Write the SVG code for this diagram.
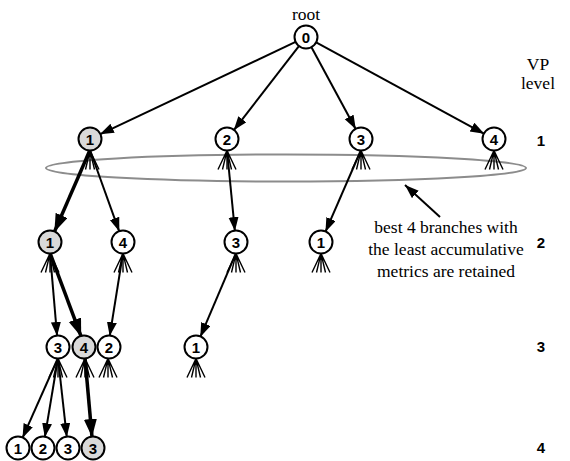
<svg xmlns="http://www.w3.org/2000/svg" width="570" height="461" viewBox="0 0 570 461">
<defs>
<marker id="ah" markerUnits="userSpaceOnUse" markerWidth="15" markerHeight="11" refX="14" refY="5" orient="auto"><path d="M0,0 L14,5 L0,10 z" fill="#000"/></marker>
<marker id="ahb" markerUnits="userSpaceOnUse" markerWidth="19" markerHeight="14" refX="18" refY="6.5" orient="auto"><path d="M0,0 L18,6.5 L0,13 z" fill="#000"/></marker>
<path id="fan" d="M0,0 L-9,19 M0,0 L-4.5,19 M0,0 L0,19 M0,0 L4.5,19 M0,0 L9,19"/>
</defs>
<style>
.n circle{fill:#fff;stroke:#000;stroke-width:2}
.g circle{fill:#d9d9d9}
.n text{font-family:"Liberation Sans",Arial,sans-serif;font-weight:bold;font-size:15px;text-anchor:middle}
.e{stroke:#000;stroke-width:2;fill:none;marker-end:url(#ah)}
.b{stroke-width:3.5;marker-end:url(#ahb)}
.f{stroke:#000;stroke-width:1.4;fill:none}
.t{font-family:"Liberation Serif","Times New Roman",serif;font-size:17.5px;text-anchor:middle}
.lv{font-family:"Liberation Sans",Arial,sans-serif;font-weight:bold;font-size:15px;text-anchor:middle}
</style>
<ellipse cx="286" cy="168" rx="240" ry="13.5" fill="none" stroke="#8c8c8c" stroke-width="2"/>
<g id="fans" class="f">
<use href="#fan" x="90" y="150.5"/><use href="#fan" x="227" y="150.5"/><use href="#fan" x="361" y="150.5"/><use href="#fan" x="494" y="150.5"/>
<use href="#fan" x="50" y="253.5"/><use href="#fan" x="123" y="253.5"/><use href="#fan" x="236" y="253.5"/><use href="#fan" x="321" y="253.5"/>
<use href="#fan" x="58" y="358.5"/><use href="#fan" x="85" y="358.5"/><use href="#fan" x="108" y="358.5"/><use href="#fan" x="196" y="358.5"/>
</g>
<g id="connectors">
<line class="e" x1="296.1" y1="41.7" x2="99.9" y2="134.3"/>
<line class="e" x1="299.3" y1="45.7" x2="233.7" y2="130.3"/>
<line class="e" x1="311.2" y1="46.7" x2="355.8" y2="129.3"/>
<line class="e" x1="315.7" y1="42.2" x2="484.3" y2="133.8"/>
<line class="e b" x1="90" y1="150" x2="54.4" y2="231.9"/>
<line class="e" x1="90" y1="150" x2="119.3" y2="231.6"/>
<line class="e" x1="227" y1="150" x2="234.9" y2="231.1"/>
<line class="e" x1="361" y1="150" x2="325.4" y2="231.9"/>
<line class="e" x1="50" y1="253" x2="57.1" y2="336"/>
<line class="e b" x1="50" y1="253" x2="81.2" y2="336.7"/>
<line class="e" x1="123" y1="253" x2="109.7" y2="336.1"/>
<line class="e" x1="236" y1="253" x2="200.3" y2="336.9"/>
<line class="e" x1="58" y1="358" x2="22.5" y2="437.9"/>
<line class="e" x1="58" y1="358" x2="44.8" y2="437.2"/>
<line class="e" x1="58" y1="358" x2="66.8" y2="437.1"/>
<line class="e b" x1="85" y1="358" x2="92" y2="437"/>
<line class="e" x1="440" y1="217" x2="405" y2="185"/>
</g>
<g id="root" class="n"><circle cx="306" cy="37" r="11.5"/><text x="306" y="42.5">0</text></g>
<g id="l1n1" class="n g"><circle cx="90" cy="139" r="11.5"/><text x="90" y="144.5">1</text></g>
<g id="l1n2" class="n"><circle cx="227" cy="139" r="11.5"/><text x="227" y="144.5">2</text></g>
<g id="l1n3" class="n"><circle cx="361" cy="139" r="11.5"/><text x="361" y="144.5">3</text></g>
<g id="l1n4" class="n"><circle cx="494" cy="139" r="11.5"/><text x="494" y="144.5">4</text></g>
<g id="l2n1" class="n g"><circle cx="50" cy="242" r="11.5"/><text x="50" y="247.5">1</text></g>
<g id="l2n4" class="n"><circle cx="123" cy="242" r="11.5"/><text x="123" y="247.5">4</text></g>
<g id="l2n3" class="n"><circle cx="236" cy="242" r="11.5"/><text x="236" y="247.5">3</text></g>
<g id="l2n1b" class="n"><circle cx="321" cy="242" r="11.5"/><text x="321" y="247.5">1</text></g>
<g id="l3n3" class="n"><circle cx="58" cy="347" r="11.5"/><text x="58" y="352.5">3</text></g>
<g id="l3n4" class="n g"><circle cx="84" cy="347" r="11.5"/><text x="84" y="352.5">4</text></g>
<g id="l3n2" class="n"><circle cx="109" cy="347" r="11.5"/><text x="109" y="352.5">2</text></g>
<g id="l3n1" class="n"><circle cx="196" cy="347" r="11.5"/><text x="196" y="352.5">1</text></g>
<g id="l4n1" class="n"><circle cx="18" cy="448" r="11.5"/><text x="18" y="453.5">1</text></g>
<g id="l4n2" class="n"><circle cx="43" cy="448" r="11.5"/><text x="43" y="453.5">2</text></g>
<g id="l4n3" class="n"><circle cx="68" cy="448" r="11.5"/><text x="68" y="453.5">3</text></g>
<g id="l4n3b" class="n g"><circle cx="93" cy="448" r="11.5"/><text x="93" y="453.5">3</text></g>
<g id="labels">
<text class="t" x="306" y="20">root</text>
<text class="t" x="538" y="70">VP</text>
<text class="t" x="538" y="89">level</text>
<text class="lv" x="541" y="146">1</text>
<text class="lv" x="541" y="248">2</text>
<text class="lv" x="541" y="352">3</text>
<text class="lv" x="541" y="453">4</text>
<text class="t" x="446" y="233">best 4 branches with</text>
<text class="t" x="446" y="255">the least accumulative</text>
<text class="t" x="446" y="277">metrics are retained</text>
</g>
</svg>
